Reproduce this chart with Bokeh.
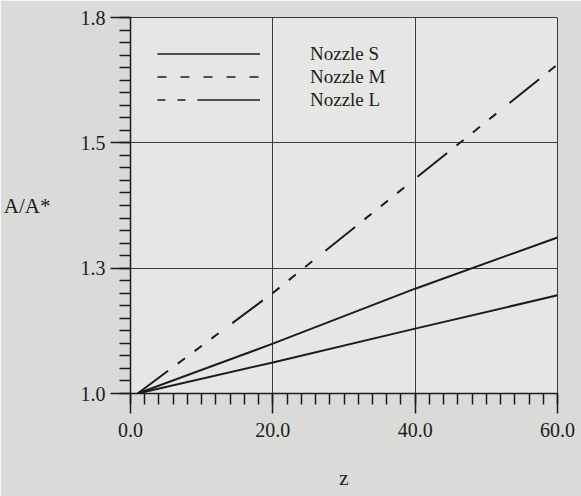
from bokeh.plotting import figure
from bokeh.models import FixedTicker, Legend, LegendItem
from bokeh.embed import file_html
from bokeh.resources import INLINE

# ---- data ----
z = [1.0, 20.0, 40.0, 60.0]
nozzle_s = [1.0, 1.066, 1.138, 1.209]
nozzle_m = [1.0, 1.214, 1.457, 1.700]
nozzle_l = [1.0, 1.106, 1.223, 1.332]

x_ticks = [0, 20, 40, 60]
x_tick_labels = ["0.0", "20.0", "40.0", "60.0"]
y_ticks = [1.0, 1.2666666666666666, 1.5333333333333333, 1.8]
y_tick_labels = ["1.0", "1.3", "1.5", "1.8"]

x_minor = [i * 2 for i in range(31)]
y_minor = [1.0 + i * 0.8 / 30 for i in range(31)]

INK = "#1c1c1c"
FONT = "Liberation Serif"

p = figure(width=581, height=496, x_range=(0, 60), y_range=(1.0, 1.8),
           output_backend="svg", toolbar_location=None,
           min_border_left=130, min_border_right=24,
           min_border_top=17, min_border_bottom=103)

p.background_fill_color = "#e6e6e4"
p.border_fill_color = "#dadad8"
p.outline_line_color = "#3a3a3a"
p.outline_line_width = 1

# axes
for ax in (p.xaxis[0], p.yaxis[0]):
    ax.axis_line_color = INK
    ax.axis_line_width = 1.5
    ax.major_tick_line_color = INK
    ax.major_tick_line_width = 1.5
    ax.minor_tick_line_color = INK
    ax.minor_tick_line_width = 1.5
    ax.major_tick_out = 20
    ax.major_tick_in = 0
    ax.minor_tick_out = 11
    ax.minor_tick_in = 0
    ax.major_label_text_font = FONT
    ax.major_label_text_font_size = "20px"
    ax.major_label_text_color = INK
    ax.axis_label_text_font = FONT
    ax.axis_label_text_font_size = "21px"
    ax.axis_label_text_font_style = "normal"
    ax.axis_label_text_color = INK

p.xaxis.ticker = FixedTicker(ticks=x_ticks, minor_ticks=x_minor)
p.xaxis.major_label_overrides = dict(zip(x_ticks, x_tick_labels))
p.xaxis.major_label_standoff = 9
p.xaxis.axis_label = "z"
p.xaxis.axis_label_standoff = 26

p.yaxis.ticker = FixedTicker(ticks=y_ticks, minor_ticks=y_minor)
p.yaxis.major_label_overrides = dict(zip(y_ticks, y_tick_labels))
p.yaxis.major_label_standoff = 5
p.yaxis.axis_label = "A/A*"
p.yaxis.axis_label_orientation = "horizontal"
p.yaxis.axis_label_standoff = 27

p.xgrid.grid_line_color = "#3a3a3a"
p.ygrid.grid_line_color = "#3a3a3a"
p.xgrid.grid_line_width = 1
p.ygrid.grid_line_width = 1

# data lines
p.line(z, nozzle_s, line_color=INK, line_width=2)
p.line(z, nozzle_l, line_color=INK, line_width=2)
p.line(z, nozzle_m, line_color=INK, line_width=2,
       line_dash="38 12 9 12 9 12 9 17")

# legend samples (styled as in the reference legend); their own points lie off the visible range
off_x = [-10.0, -9.0]
off_y = [0.0, 0.0]
leg_s = p.line(off_x, off_y, line_color=INK, line_width=1.5)
leg_m = p.line(off_x, off_y, line_color=INK, line_width=1.5, line_dash="9 14")
leg_l = p.line(off_x, off_y, line_color=INK, line_width=1.5, line_dash="8 12 8 12 100")

legend = Legend(items=[LegendItem(label="Nozzle S", renderers=[leg_s]),
                       LegendItem(label="Nozzle M", renderers=[leg_m]),
                       LegendItem(label="Nozzle L", renderers=[leg_l])],
                location=(27, 282), orientation="vertical",
                padding=0, margin=0, spacing=0,
                glyph_width=103, glyph_height=23, label_height=23,
                label_standoff=50, label_text_font=FONT,
                label_text_font_size="19px", label_text_color=INK,
                border_line_color=None, background_fill_alpha=0)
p.add_layout(legend)

open("out.html", "w").write(file_html(p, INLINE))
